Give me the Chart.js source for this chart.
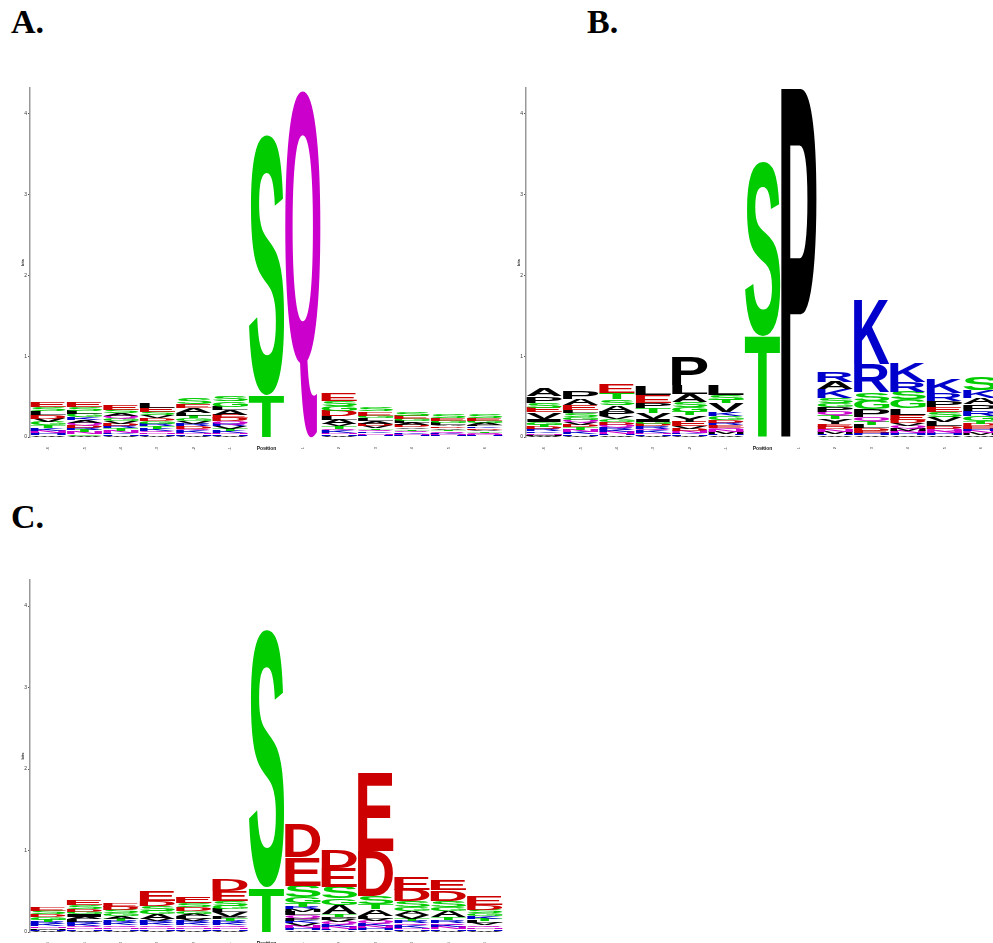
<!DOCTYPE html>
<html>
<head>
<meta charset="utf-8">
<script src="https://cdn.jsdelivr.net/npm/chart.js@4.4.1/dist/chart.umd.min.js"></script>
<style>
  html, body { margin: 0; padding: 0; background: #fff; }
  body { width: 993px; height: 943px; overflow: hidden; position: relative; }
  .panel { position: absolute; }
  .tag { position: absolute; font-family: "Liberation Serif", serif; font-weight: bold; font-size: 34px; line-height: 34px; color: #000; }
</style>
</head>
<body>
<div class="tag" style="left:11px; top:5px;">A.</div>
<div class="tag" style="left:587px; top:5px;">B.</div>
<div class="tag" style="left:11px; top:500px;">C.</div>

<canvas id="logoA" class="panel" width="506" height="380" style="left:14px; top:80px;"></canvas>
<canvas id="logoB" class="panel" width="510" height="380" style="left:510px; top:80px;"></canvas>
<canvas id="logoC" class="panel" width="506" height="385" style="left:14px; top:570px;"></canvas>

<script>
// positions around the phosphosite
const positions = ['-6', '-5', '-4', '-3', '-2', '-1', '0', '1', '2', '3', '4', '5', '6'];

// each column: letters from bottom to top, with their heights in bits
const lettersA = ['WHNKTGVDLSE', 'WCNTRDQAKGLSE', 'WHKNTRDVGQASE', 'WHNQKTRGDVSEL', 'WHNKQDRVGTLAES', 'WHNKTVRQDEALGS',
  'TS', 'Q', 'WHNKQTVALDGSE', 'WHNKQTVDALGES', 'WHNKQTVDALGES', 'WHNKQTVDALGES', 'WHNQTVDKLAGES'];
const bitsA = [
  [.02, .025, .03, .035, .035, .04, .04, .045, .05, .05, .055],
  [.015, .02, .025, .025, .03, .03, .03, .035, .035, .04, .04, .045, .06],
  [.015, .02, .02, .025, .025, .03, .03, .03, .035, .035, .035, .04, .06],
  [.015, .02, .02, .025, .025, .03, .03, .035, .035, .035, .04, .055, .065],
  [.015, .02, .02, .025, .025, .03, .03, .03, .035, .035, .035, .06, .045, .08],
  [.015, .02, .02, .025, .025, .025, .025, .04, .04, .04, .06, .04, .07, .07],
  [.52, 3.22],
  [4.31],
  [.015, .02, .02, .025, .025, .025, .025, .06, .04, .07, .06, .06, .10],
  [.01, .015, .02, .02, .025, .02, .025, .03, .03, .035, .035, .05, .055],
  [.01, .015, .015, .02, .02, .02, .02, .025, .025, .025, .03, .04, .045],
  [.01, .01, .015, .015, .02, .02, .02, .02, .02, .025, .025, .03, .04],
  [.01, .01, .015, .015, .02, .02, .02, .02, .02, .025, .025, .03, .04]
];

const lettersB = ['WMNKRDTGIVESPA', 'WHKNTDVQGSLEAP', 'WHNKRQDGVPASTE', 'WHNKQRDGIVTPEL', 'WHKNDVEYTGSALP', 'WHMNQERDGKVTSL',
  'TS', 'P', 'WHMNDEYTQPGSKAR', 'WHEDLTQPGSRK', 'WHNMQVDELGSRK', 'WHNQDLVSEPRK', 'WMNHEDTGRPAKS'];
const bitsB = [
  [.015, .015, .02, .02, .025, .025, .03, .035, .035, .085, .055, .065, .085, .1],
  [.015, .02, .025, .03, .03, .03, .03, .03, .035, .05, .035, .06, .08, .09],
  [.02, .02, .025, .025, .03, .03, .035, .035, .035, .06, .08, .07, .075, .115],
  [.015, .02, .02, .025, .025, .025, .03, .03, .03, .08, .065, .06, .095, .11],
  [.015, .02, .02, .025, .025, .025, .06, .08, .04, .06, .06, .1, .115, .355],
  [.02, .02, .025, .025, .025, .03, .03, .03, .05, .05, .11, .04, .06, .13],
  [1.25, 2.15],
  [4.35],
  [.02, .02, .025, .03, .03, .035, .06, .04, .055, .06, .05, .06, .11, .09, .125],
  [.02, .025, .03, .035, .04, .04, .06, .09, .11, .10, .35, .80],
  [.02, .025, .03, .03, .035, .035, .04, .06, .08, .11, .095, .12, .24],
  [.02, .025, .025, .03, .03, .06, .06, .06, .06, .08, .10, .18],
  [.02, .025, .025, .03, .03, .03, .035, .07, .06, .08, .08, .10, .16]
];

const lettersC = ['WHMNKRTGDSE', 'WHNQKRLAIGDSE', 'WHNQKRTAGSDE', 'WHNQKRVAGSDE', 'WHNQKRVLAGDSE', 'WHNQKRTPVLGSED',
  'TS', 'WHNVKPQLMRTGSED', 'WHNKQVPTAGSED', 'WHNKQVLATSDE', 'WHNKQRTVAGSDE', 'WHNKQRTAGSDE', 'WHNQVLTKGSDE'];
const bitsC = [
  [.015, .015, .02, .02, .025, .025, .03, .035, .03, .04, .05],
  [.015, .02, .02, .02, .025, .025, .03, .035, .03, .03, .035, .045, .06],
  [.015, .02, .02, .025, .025, .025, .03, .035, .035, .04, .04, .05],
  [.015, .02, .02, .025, .025, .025, .03, .06, .04, .06, .06, .12],
  [.015, .02, .02, .025, .025, .025, .03, .03, .035, .035, .045, .05, .07],
  [.015, .02, .02, .025, .025, .025, .025, .025, .06, .04, .04, .06, .12, .14],
  [.55, 3.16],
  [.02, .025, .03, .03, .03, .035, .035, .04, .035, .03, .04, .08, .14, .35, .41],
  [.02, .02, .025, .025, .03, .03, .035, .035, .11, .08, .14, .23, .22],
  [.02, .025, .025, .03, .03, .035, .035, .08, .06, .10, .55, .96],
  [.015, .02, .02, .025, .025, .025, .03, .05, .05, .04, .08, .14, .16],
  [.015, .02, .025, .025, .025, .035, .035, .08, .04, .08, .13, .12],
  [.015, .02, .02, .025, .025, .03, .03, .03, .035, .04, .06, .11]
];

const yTicks = [0, 1, 2, 3, 4];

function letterColor(ch) {
  if ('DE'.includes(ch)) return '#CC0000';
  if ('KRH'.includes(ch)) return '#0000CC';
  if ('NQ'.includes(ch)) return '#CC00CC';
  if ('GSTC'.includes(ch)) return '#00CC00';
  return '#000000';
}

// draws each stacked bar as a letter stretched to fill its box
const letterPlugin = {
  id: 'letters',
  afterDatasetsDraw(chart) {
    const ctx = chart.ctx;
    ctx.save();
    ctx.font = 'bold 200px "Liberation Sans", Arial, sans-serif';
    ctx.textAlign = 'left';
    ctx.textBaseline = 'alphabetic';
    chart.data.datasets.forEach((ds, d) => {
      const meta = chart.getDatasetMeta(d);
      meta.data.forEach((bar, i) => {
        const ch = ds.letters[i];
        if (!ch) return;
        const p = bar.getProps(['x', 'y', 'base', 'width'], true);
        const h = Math.abs(p.base - p.y);
        if (h < 0.3) return;
        const top = Math.min(p.base, p.y);
        const left = p.x - p.width / 2;
        const m = ctx.measureText(ch);
        const gw = m.actualBoundingBoxLeft + m.actualBoundingBoxRight;
        const gh = m.actualBoundingBoxAscent + m.actualBoundingBoxDescent;
        ctx.save();
        ctx.translate(left, top);
        ctx.scale(p.width / gw, h / gh);
        ctx.fillStyle = letterColor(ch);
        ctx.fillText(ch, m.actualBoundingBoxLeft, m.actualBoundingBoxAscent);
        ctx.restore();
      });
    });
    ctx.restore();
  }
};

function makeLogo(id, letters, bits, pad, xHeight) {
  const depth = Math.max(...letters.map(s => s.length));
  const datasets = [];
  for (let k = 0; k < depth; k++) {
    datasets.push({
      data: bits.map(col => col[k] !== undefined ? col[k] : 0),
      letters: letters.map(s => s[k] || ''),
      backgroundColor: 'rgba(0,0,0,0)',
      borderWidth: 0,
      barPercentage: 0.97,
      categoryPercentage: 1
    });
  }
  new Chart(document.getElementById(id), {
    type: 'bar',
    data: { labels: positions, datasets: datasets },
    plugins: [letterPlugin],
    options: {
      responsive: false,
      devicePixelRatio: 1,
      animation: false,
      events: [],
      layout: { padding: pad },
      plugins: { legend: { display: false }, tooltip: { enabled: false } },
      scales: {
        x: {
          stacked: true,
          grid: { display: false },
          border: { display: false },
          ticks: { minRotation: 90, maxRotation: 90, padding: 2, color: '#333', font: { size: 4 } },
          title: { display: true, text: 'Position', color: '#222', font: { size: 5, weight: 'bold' }, padding: { top: 0, bottom: 8 } },
          afterFit: s => { s.height = xHeight; }
        },
        y: {
          stacked: true,
          min: 0,
          max: 4.32,
          afterBuildTicks: s => { s.ticks = yTicks.map(v => ({ value: v })); },
          grid: { drawOnChartArea: false, drawTicks: true, tickLength: 2, color: '#555' },
          border: { display: true, color: '#999', width: 1.5 },
          ticks: { padding: 1, color: '#333', font: { size: 5 } },
          title: { display: true, text: 'bits', color: '#222', font: { size: 4, weight: 'bold' }, padding: { top: 6, bottom: 0 } },
          afterFit: s => { s.width = 16; }
        }
      }
    }
  });
}

makeLogo('logoA', lettersA, bitsA, { top: 8, right: 17, left: 0, bottom: 0 }, 23);
makeLogo('logoB', lettersB, bitsB, { top: 8, right: 21, left: 0, bottom: 0 }, 23);
makeLogo('logoC', lettersC, bitsC, { top: 10, right: 17, left: 0, bottom: 0 }, 23);
</script>
</body>
</html>
